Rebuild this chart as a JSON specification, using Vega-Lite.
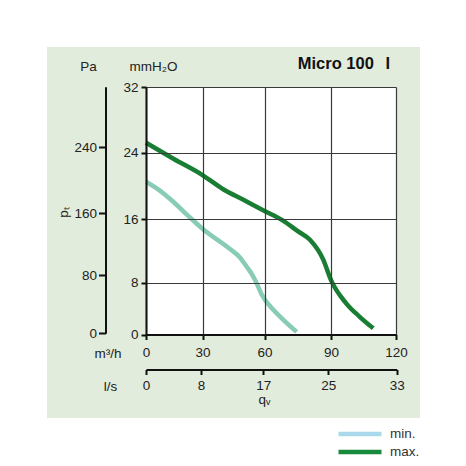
{
  "$schema": "https://vega.github.io/schema/vega-lite/v6.json",
  "width": 373,
  "height": 371,
  "autosize": {"type": "none"},
  "padding": {"left": 47, "top": 47, "right": 46, "bottom": 48},
  "background": "white",
  "config": {
    "view": {"fill": "#e1ecdc", "stroke": null},
    "font": "Liberation Sans",
    "axis": {
      "labelFont": "Liberation Sans",
      "titleFont": "Liberation Sans",
      "labelFontSize": 13.5,
      "titleFontSize": 13.5,
      "labelColor": "#222",
      "titleColor": "#222",
      "titleFontWeight": "normal",
      "domainColor": "#111",
      "tickColor": "#111",
      "labelOverlap": false,
      "labelFlush": false
    }
  },
  "title": {
    "text": "Micro 100\u2002\u2009I",
    "anchor": "end",
    "frame": "group",
    "orient": "top",
    "offset": -33,
    "baseline": "middle",
    "dx": -30,
    "fontSize": 16.5,
    "font": "Liberation Sans",
    "fontWeight": "bold",
    "color": "#111"
  },
  "data": {
    "values": [
      {"series": "max.", "q": 0, "p": 25.2},
      {"series": "max.", "q": 15, "p": 23.2},
      {"series": "max.", "q": 30, "p": 21.3},
      {"series": "max.", "q": 40, "p": 19.6},
      {"series": "max.", "q": 50, "p": 18.3},
      {"series": "max.", "q": 60, "p": 17.0},
      {"series": "max.", "q": 68, "p": 15.9},
      {"series": "max.", "q": 75, "p": 14.5},
      {"series": "max.", "q": 80.5, "p": 13.4},
      {"series": "max.", "q": 86.5, "p": 10.9},
      {"series": "max.", "q": 90, "p": 8.3},
      {"series": "max.", "q": 97, "p": 4.8},
      {"series": "max.", "q": 103, "p": 2.8},
      {"series": "max.", "q": 109.5, "p": 0.95},
      {"series": "min.", "q": 0, "p": 20.5},
      {"series": "min.", "q": 7, "p": 19.5},
      {"series": "min.", "q": 14.5, "p": 18.1},
      {"series": "min.", "q": 22, "p": 16.5},
      {"series": "min.", "q": 30, "p": 14.8},
      {"series": "min.", "q": 43, "p": 12.3},
      {"series": "min.", "q": 48, "p": 11.2},
      {"series": "min.", "q": 51.4, "p": 10.0},
      {"series": "min.", "q": 54, "p": 9.0},
      {"series": "min.", "q": 56.2, "p": 7.9},
      {"series": "min.", "q": 58.7, "p": 6.1},
      {"series": "min.", "q": 64, "p": 3.8},
      {"series": "min.", "q": 69, "p": 2.1},
      {"series": "min.", "q": 74.5, "p": 0.4}
    ]
  },
  "layer": [
    {
      "data": {"values": [{}]},
      "mark": {"type": "rect", "fill": "white"},
      "encoding": {
        "x": {"datum": 0, "type": "quantitative", "scale": {"domain": [0, 30, 60, 90, 120], "range": [99, 155.5, 217.5, 284, 349], "nice": false, "zero": false}, "axis": null},
        "x2": {"datum": 120},
        "y": {"datum": 0, "type": "quantitative", "scale": {"domain": [0, 8, 16, 24, 32], "range": [287.5, 235.5, 172.3, 105.5, 40], "nice": false, "zero": false}, "axis": null},
        "y2": {"datum": 32}
      }
    },
    {
      "data": {"values": [{}]},
      "mark": {"type": "point", "opacity": 0},
      "encoding": {
        "x": {
          "datum": 0, "type": "quantitative",
          "scale": {"domain": [0, 30, 60, 90, 120], "range": [99, 155.5, 217.5, 284, 349], "nice": false, "zero": false},
          "axis": {
            "orient": "bottom", "offset": -83.5, "values": [0, 30, 60, 90, 120],
            "grid": true, "gridColor": "#3a3a3a", "gridWidth": 1.2, "gridOpacity": 1,
            "domain": false, "ticks": false, "labels": false, "title": null, "zindex": 1
          }
        },
        "y": {"datum": 0, "type": "quantitative", "scale": {"domain": [0, 32], "range": [331, 83.5], "nice": false, "zero": false}, "axis": null}
      }
    },
    {
      "mark": {"type": "line", "interpolate": "monotone", "strokeWidth": 4.5},
      "encoding": {
        "x": {
          "field": "q", "type": "quantitative",
          "scale": {"domain": [0, 30, 60, 90, 120], "range": [99, 155.5, 217.5, 284, 349], "nice": false, "zero": false},
          "axis": {
            "orient": "bottom", "offset": -83.5, "values": [0, 30, 60, 90, 120], "grid": false,
            "domainWidth": 2, "tickSize": 5, "tickWidth": 2, "labelPadding": 6, "labelAngle": 0,
            "title": "m³/h", "titleX": 60.5, "titleY": 18.5, "titleAlign": "center", "titleBaseline": "middle", "titleAngle": 0,
            "zindex": 1
          }
        },
        "y": {
          "field": "p", "type": "quantitative",
          "scale": {"domain": [0, 8, 16, 24, 32], "range": [287.5, 235.5, 172.3, 105.5, 40], "nice": false, "zero": false},
          "axis": {
            "orient": "left", "offset": -99, "values": [0, 8, 16, 24, 32],
            "grid": true, "gridColor": "#3a3a3a", "gridWidth": 1.2, "gridOpacity": 1,
            "domainWidth": 2, "tickSize": 5, "tickWidth": 2, "labelPadding": 3,
            "title": "mmH₂O", "titleX": 7, "titleY": 19, "titleAlign": "center", "titleBaseline": "middle", "titleAngle": 0,
            "zindex": 1
          }
        },
        "color": {
          "field": "series", "type": "nominal",
          "scale": {"domain": ["min.", "max."], "range": ["#88ccb6", "#1a7d34"]},
          "legend": null
        }
      }
    },
    {
      "mark": {"type": "line", "strokeWidth": 0},
      "encoding": {
        "x": {"field": "q", "type": "quantitative", "scale": {"domain": [0, 30, 60, 90, 120], "range": [99, 155.5, 217.5, 284, 349], "nice": false, "zero": false}, "axis": null},
        "y": {"field": "p", "type": "quantitative", "scale": {"domain": [0, 8, 16, 24, 32], "range": [287.5, 235.5, 172.3, 105.5, 40], "nice": false, "zero": false}, "axis": null},
        "stroke": {
          "field": "series", "type": "nominal",
          "scale": {"domain": ["min.", "max."], "range": ["#a9d9ea", "#178a3c"]},
          "legend": {
            "orient": "none", "legendX": 305.5, "legendY": 379.5, "title": null, "padding": 0,
            "symbolType": "M-4.3,0H4.3", "symbolSize": 100, "symbolStrokeWidth": 4.5, "symbolOpacity": 1,
            "labelOffset": 22.5, "labelFontSize": 13.5, "labelFont": "Liberation Sans", "labelColor": "#333",
            "rowPadding": -1
          }
        }
      }
    },
    {
      "data": {"values": [{}]},
      "mark": {"type": "point", "opacity": 0},
      "encoding": {
        "y": {
          "datum": 0, "type": "quantitative",
          "scale": {"domain": [0, 80, 160, 240, 313.9], "range": [286.3, 228, 166.3, 100.3, 39.7], "nice": false, "zero": false},
          "axis": {
            "orient": "left", "offset": -58.5, "values": [0, 80, 160, 240], "grid": false,
            "domainWidth": 2, "tickSize": 7, "tickWidth": 2, "labelPadding": 2,
            "title": "Pa", "titleX": -17.5, "titleY": 19, "titleAlign": "center", "titleBaseline": "middle", "titleAngle": 0,
            "zindex": 1
          }
        }
      }
    },
    {
      "data": {"values": [{}]},
      "mark": {"type": "point", "opacity": 0},
      "encoding": {
        "y": {
          "datum": 0, "type": "quantitative",
          "scale": {"domain": [0, 1]},
          "axis": {
            "orient": "left", "offset": -58.5, "domain": false, "ticks": false, "labels": false, "grid": false,
            "title": "pₜ", "titleX": -42.5, "titleY": 165, "titleAlign": "center", "titleBaseline": "middle", "titleAngle": -90
          }
        }
      }
    },
    {
      "data": {"values": [{}]},
      "mark": {"type": "point", "opacity": 0},
      "encoding": {
        "x": {
          "datum": 0, "type": "quantitative",
          "scale": {"domain": [0, 8, 17, 25, 33], "range": [99, 154, 216.3, 281.3, 349.7], "nice": false, "zero": false},
          "axis": {
            "orient": "bottom", "offset": -48.5, "values": [0, 8, 17, 25, 33], "grid": false,
            "domainWidth": 2, "tickSize": 5, "tickWidth": 2, "labelPadding": 4, "labelAngle": 0,
            "title": "l/s", "titleX": 63, "titleY": 16.5, "titleAlign": "center", "titleBaseline": "middle", "titleAngle": 0,
            "zindex": 1
          }
        }
      }
    },
    {
      "data": {"values": [{}]},
      "mark": {"type": "point", "opacity": 0},
      "encoding": {
        "x": {
          "datum": 0, "type": "quantitative",
          "scale": {"domain": [0, 1]},
          "axis": {
            "orient": "bottom", "offset": -48.5, "domain": false, "ticks": false, "labels": false, "grid": false,
            "title": "qᵥ", "titleX": 217, "titleY": 29.5, "titleAlign": "center", "titleBaseline": "middle", "titleAngle": 0
          }
        }
      }
    }
  ],
  "resolve": {
    "scale": {"x": "independent", "y": "independent", "color": "independent", "stroke": "independent"},
    "axis": {"x": "independent", "y": "independent"}
  }
}
